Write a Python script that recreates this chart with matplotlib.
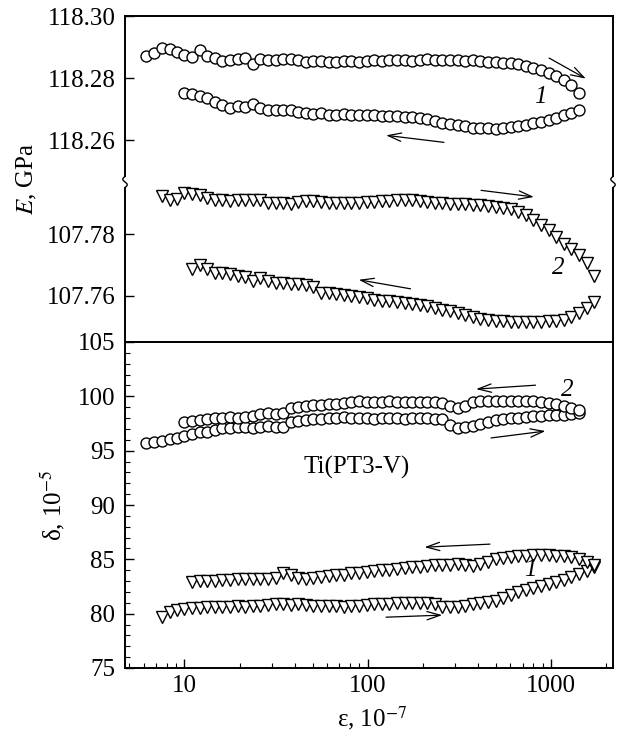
import numpy as np
import matplotlib
matplotlib.use("Agg")
from matplotlib import pyplot as plt
from matplotlib.ticker import MultipleLocator, LogLocator, NullFormatter
from matplotlib.lines import Line2D
from matplotlib.patches import Rectangle

# strain amplitude steps, eps, 10^-7
STRAIN = [6.2, 6.8, 7.5, 8.3, 9.1, 10.0, 11.0, 12.1, 13.3, 14.6,
          16.1, 17.7, 19.5, 21.4, 23.6, 25.9, 28.5, 31.4, 34.5, 38.0,
          41.8, 45.9, 50.5, 55.6, 61.1, 67.2, 74.0, 81.4, 89.5, 98.5,
          108, 119, 131, 144, 159, 174, 192, 211, 232, 255,
          281, 309, 340, 374, 411, 453, 498, 548, 602, 662,
          729, 802, 882, 970, 1067, 1174, 1291, 1420, 1562, 1718]

# E, GPa -- curve 1 (circles), first step index 0 / 5
e1_up_start = 0
e1_up = [118.2872, 118.2880, 118.2898, 118.2894, 118.2885, 118.2876, 118.2869, 118.2890, 118.2872, 118.2866,
         118.2855, 118.2860, 118.2863, 118.2866, 118.2847, 118.2863, 118.2858, 118.2860, 118.2862, 118.2863,
         118.2858, 118.2853, 118.2856, 118.2856, 118.2853, 118.2853, 118.2856, 118.2856, 118.2853, 118.2856,
         118.2858, 118.2856, 118.2858, 118.2860, 118.2858, 118.2856, 118.2860, 118.2862, 118.2860, 118.2858,
         118.2860, 118.2858, 118.2856, 118.2858, 118.2856, 118.2853, 118.2852, 118.2850, 118.2848, 118.2846,
         118.2840, 118.2834, 118.2828, 118.2818, 118.2807, 118.2795, 118.2777, 118.2751]
e1_down_start = 5
e1_down = [118.2751, 118.2748, 118.2742, 118.2737, 118.2722, 118.2713, 118.2704, 118.2711, 118.2708, 118.2715,
           118.2704, 118.2697, 118.2697, 118.2697, 118.2697, 118.2691, 118.2686, 118.2684, 118.2686, 118.2681,
           118.2681, 118.2683, 118.2682, 118.2682, 118.2681, 118.2680, 118.2679, 118.2678, 118.2677, 118.2676,
           118.2674, 118.2672, 118.2668, 118.2662, 118.2656, 118.2652, 118.2648, 118.2644, 118.2640, 118.2638,
           118.2638, 118.2637, 118.2640, 118.2642, 118.2646, 118.2650, 118.2655, 118.2660, 118.2666, 118.2672,
           118.2680, 118.2688, 118.2697]

# E, GPa -- curve 2 (triangles)
e2_up_start = 2
e2_up = [107.7923, 107.7912, 107.7915, 107.7933, 107.7929, 107.7926, 107.7918, 107.7912, 107.7912, 107.7908,
         107.7910, 107.7910, 107.7910, 107.7910, 107.7902, 107.7902, 107.7902, 107.7899, 107.7906, 107.7908,
         107.7908, 107.7906, 107.7902, 107.7902, 107.7902, 107.7902, 107.7902, 107.7904, 107.7904, 107.7907,
         107.7909, 107.7911, 107.7911, 107.7910, 107.7907, 107.7904, 107.7902, 107.7900, 107.7899, 107.7898,
         107.7897, 107.7896, 107.7895, 107.7893, 107.7889, 107.7885, 107.7881, 107.7872, 107.7861, 107.7847,
         107.7829, 107.7813, 107.7791, 107.7770, 107.7752, 107.7733, 107.7706, 107.7665]
e2_down_start = 6
e2_down = [107.7689, 107.7700, 107.7687, 107.7675, 107.7673, 107.7671, 107.7665, 107.7660, 107.7649, 107.7657,
           107.7649, 107.7643, 107.7641, 107.7639, 107.7639, 107.7635, 107.7628, 107.7611, 107.7609, 107.7606,
           107.7603, 107.7600, 107.7596, 107.7593, 107.7587, 107.7585, 107.7583, 107.7580, 107.7578, 107.7574,
           107.7571, 107.7566, 107.7560, 107.7555, 107.7550, 107.7546, 107.7540, 107.7533, 107.7527, 107.7523,
           107.7520, 107.7518, 107.7517, 107.7516, 107.7517, 107.7517, 107.7517, 107.7518, 107.7520, 107.7523,
           107.7533, 107.7544, 107.7560, 107.7582]

# delta, 10^-5 -- curve 2 (circles)
d2_up_start = 0
d2_up = [95.67, 95.82, 95.91, 96.03, 96.19, 96.37, 96.49, 96.68, 96.74, 96.90,
         97.05, 97.10, 97.20, 97.20, 97.10, 97.20, 97.30, 97.20, 97.20, 97.66,
         97.70, 97.80, 97.90, 97.90, 97.97, 98.00, 98.10, 98.00, 97.97, 98.00,
         97.95, 97.97, 98.00, 97.97, 97.95, 97.97, 98.00, 97.97, 97.95, 97.90,
         97.40, 97.10, 97.20, 97.30, 97.50, 97.66, 97.80, 97.90, 97.97, 98.00,
         98.10, 98.15, 98.20, 98.25, 98.25, 98.25, 98.33, 98.43]
d2_down_start = 5
d2_down = [97.66, 97.70, 97.80, 97.90, 97.97, 98.00, 98.10, 98.05, 98.10, 98.20,
           98.33, 98.43, 98.33, 98.50, 98.90, 99.05, 99.13, 99.20, 99.20, 99.26,
           99.26, 99.35, 99.45, 99.57, 99.50, 99.52, 99.50, 99.55, 99.50, 99.52,
           99.50, 99.50, 99.48, 99.45, 99.35, 99.13, 98.90, 99.13, 99.50, 99.57,
           99.57, 99.55, 99.57, 99.60, 99.57, 99.57, 99.57, 99.45, 99.35, 99.26,
           99.13, 98.90, 98.74]

# delta, 10^-5 -- curve 1 (triangles)
d1_up_start = 2
d1_up = [79.70, 80.16, 80.38, 80.47, 80.50, 80.55, 80.60, 80.60, 80.65, 80.65,
         80.70, 80.65, 80.70, 80.75, 80.80, 80.85, 80.85, 80.80, 80.85, 80.80,
         80.75, 80.75, 80.70, 80.70, 80.65, 80.70, 80.75, 80.80, 80.85, 80.90,
         80.90, 80.95, 81.00, 81.00, 81.00, 80.95, 80.90, 80.60, 80.60, 80.65,
         80.70, 80.85, 80.95, 81.05, 81.20, 81.45, 81.70, 81.95, 82.16, 82.35,
         82.55, 82.75, 82.90, 83.10, 83.35, 83.65, 83.95, 84.30]
d1_down_start = 6
d1_down = [82.90, 83.00, 83.05, 83.05, 83.10, 83.10, 83.15, 83.15, 83.20, 83.20,
           83.20, 83.25, 83.75, 83.60, 83.30, 83.20, 83.30, 83.40, 83.50, 83.55,
           83.60, 83.70, 83.75, 83.80, 83.90, 84.00, 84.05, 84.10, 84.20, 84.25,
           84.30, 84.40, 84.45, 84.50, 84.50, 84.55, 84.50, 84.40, 84.60, 84.80,
           85.00, 85.10, 85.25, 85.30, 85.35, 85.40, 85.40, 85.40, 85.35, 85.30,
           85.20, 85.00, 84.80, 84.50]

W_PX, H_PX = 621, 738


def fx(px):
    return px / W_PX


def fy(py):
    return 1 - py / H_PX


def draw(ax, start, vals, marker, ms):
    x = STRAIN[start:start + len(vals)]
    ax.plot(x, vals, linestyle="none", marker=marker, ms=ms,
            mfc="white", mec="black", mew=1.0, clip_on=False)


def arrow(fig, tail, head):
    fig.add_artist(matplotlib.patches.FancyArrowPatch(
        (fx(tail[0]), fy(tail[1])), (fx(head[0]), fy(head[1])),
        transform=fig.transFigure, mutation_scale=10, lw=0.9, color="black",
        arrowstyle="->,head_length=0.95,head_width=0.3"))


def break_mark(fig, px, py):
    # small white gap in the spine with a squiggle over it
    fig.add_artist(Rectangle((fx(px - 4), fy(py + 5)), 8 / W_PX, 10 / H_PX,
                             transform=fig.transFigure, fc="white", ec="none", zorder=5))
    t = np.linspace(-1, 1, 30)
    xs = [fx(px + 2.2 * np.sin(np.pi * v)) for v in t]
    ys = [fy(py + 5.5 * v) for v in t]
    fig.add_artist(Line2D(xs, ys, transform=fig.transFigure, color="black", lw=1.0, zorder=6))


plt.rcParams["font.family"] = ["Liberation Serif", "DejaVu Serif"]
plt.rcParams["mathtext.fontset"] = "stix"
plt.rcParams["font.size"] = 18

fig = plt.figure(figsize=(6.21, 7.38), dpi=100)
left = fx(125)
width = 488 / W_PX
ax_hi = fig.add_axes([left, fy(182), width, 166 / H_PX])
ax_lo = fig.add_axes([left, fy(342), width, 160 / H_PX])
ax_d = fig.add_axes([left, fy(668), width, 326 / H_PX])

for ax in (ax_hi, ax_lo, ax_d):
    ax.set_xscale("log")
    ax.set_xlim(4.735, 2179)
    for s in ax.spines.values():
        s.set_linewidth(1.4)
    ax.tick_params(axis="y", which="major", direction="in", length=6.5, width=1.0, pad=7,
                   right=False, labelsize=18)
    ax.tick_params(axis="y", which="minor", direction="in", length=3.5, width=0.8, right=False)

# top panel, broken E axis
ax_hi.spines["bottom"].set_visible(False)
ax_lo.spines["top"].set_visible(False)
for ax in (ax_hi, ax_lo):
    ax.tick_params(axis="x", which="both", bottom=False, top=False, labelbottom=False)

draw(ax_hi, e1_up_start, e1_up, "o", 7.9)
draw(ax_hi, e1_down_start, e1_down, "o", 7.9)
ax_hi.set_ylim(118.24645, 118.3001)
ax_hi.set_yticks([118.26, 118.28, 118.30])
ax_hi.set_yticklabels(["118.26", "118.28", "118.30"])

for a, b in ((e2_up_start, e2_up), (e2_down_start, e2_down)):
    draw(ax_lo, a, b, "v", 8.4)
ax_lo.set_ylim(107.74509, 107.79695)
ax_lo.set_yticks([107.76, 107.78])
ax_lo.set_yticklabels(["107.76", "107.78"])

# bottom panel, decrement
draw(ax_d, d2_up_start, d2_up, "o", 7.9)
draw(ax_d, d2_down_start, d2_down, "o", 7.9)
draw(ax_d, d1_up_start, d1_up, "v", 8.4)
draw(ax_d, d1_down_start, d1_down, "v", 8.4)
ax_d.set_ylim(75, 105)
ax_d.yaxis.set_major_locator(MultipleLocator(5))
ax_d.yaxis.set_minor_locator(MultipleLocator(1))
ax_d.set_xticks([10, 100, 1000])
ax_d.set_xticklabels(["10", "100", "1000"])
ax_d.xaxis.set_minor_locator(LogLocator(base=10, subs=[2, 3, 4, 5, 6, 7, 8, 9]))
ax_d.xaxis.set_minor_formatter(NullFormatter())
ax_d.tick_params(axis="x", which="major", direction="in", length=6.5, width=1.0, pad=5,
                 top=False, labelsize=18)
ax_d.tick_params(axis="x", which="minor", direction="in", length=3.5, width=0.8, top=False)

break_mark(fig, 125, 182)
break_mark(fig, 613, 182)

# axis titles
fig.text(fx(27), fy(179), "$E$, GPa", rotation=90, ha="center", va="center")
fig.text(fx(53), fy(505), "δ, 10$^{-5}$", rotation=90, ha="center", va="center")
fig.text(fx(372), fy(718), "ε, 10$^{-7}$", ha="center", va="center")

# arrows showing loading direction
arrow(fig, (546.7, 56.7), (588.3, 80))
arrow(fig, (446.7, 142.7), (383.3, 135))
arrow(fig, (478.3, 190), (536.7, 197.3))
arrow(fig, (413.3, 289.3), (356, 279.3))
arrow(fig, (538.3, 385), (473.3, 389.3))
arrow(fig, (488.3, 438.3), (548.3, 430.7))
arrow(fig, (492.7, 544), (421.7, 547.3))
arrow(fig, (383.3, 617.3), (445, 615))

fig.text(fx(540), fy(97), "1", style="italic", ha="center", va="center")
fig.text(fx(558), fy(268), "2", style="italic", ha="center", va="center")
fig.text(fx(567), fy(390), "2", style="italic", ha="center", va="center")
fig.text(fx(530), fy(570), "1", style="italic", ha="center", va="center")
fig.text(fx(357), fy(467), "Ti(PT3-V)", ha="center", va="center")

fig.savefig("out.png", dpi=100)
